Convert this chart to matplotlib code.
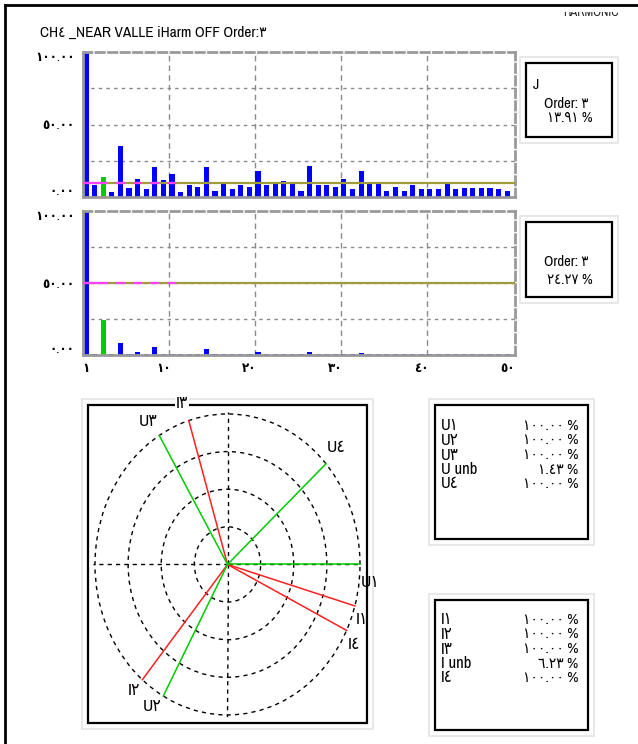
import numpy as np
import matplotlib
matplotlib.use("Agg")
import matplotlib.pyplot as plt
from matplotlib.patches import Rectangle

plt.rcParams['font.family'] = ['Archivo Narrow', 'DejaVu Sans', 'IBM Plex Sans Arabic']
plt.rcParams['font.stretch'] = 'condensed'

W, H = 638, 744
AR_DIGITS = str.maketrans('0123456789', '٠١٢٣٤٥٦٧٨٩')


def ar(s):
    """Arabic-Indic digits, as the instrument screen shows them."""
    return str(s).translate(AR_DIGITS)


# ---- data ----
title = 'CH4 _NEAR VALLE iHarm OFF Order:3'
header = 'HARMONIC'
orders = np.arange(1, 51)
sel_order = 3

# harmonic spectrum, channel voltage (% of fundamental)
spec_a = [100, 8.3, 13.91, 3.5, 35.4, 6.0, 12.3, 5.3, 20.6, 11.8,
          15.7, 3.5, 8.3, 7.2, 20.6, 4.2, 9.5, 5.3, 8.3, 7.2,
          17.6, 8.3, 9.5, 11.3, 9.5, 4.2, 21.7, 8.3, 8.3, 7.2,
          12.3, 5.3, 17.6, 9.5, 9.5, 4.2, 7.2, 4.2, 8.3, 5.3,
          5.3, 5.3, 9.5, 5.3, 6.0, 6.0, 6.0, 6.0, 5.3, 4.2]
# harmonic spectrum, channel current (% of fundamental)
spec_b = [100, 0.8, 24.27, 0.8, 8.1, 0.8, 2.0, 0.8, 5.8, 0.8,
          0.8, 0.8, 0.8, 0.8, 4.0, 0.8, 0.8, 0.8, 0.8, 0.8,
          2.3, 0.8, 0.8, 0.8, 0.8, 0.8, 2.3, 0.8, 0.8, 0.8,
          0.8, 0.8, 1.7, 0.8, 0.8, 0.8, 0.8, 0.8, 0.8, 0.8,
          0.8, 0.8, 0.8, 0.8, 0.8, 0.8, 0.8, 0.8, 0.8, 0.8]
limit_a = 10.0
limit_b = 50.0
limit_orders = [1, 2, 3, 5, 7, 9, 11]
x_ticks = [1, 10, 20, 30, 40, 50]

# phasors (deg, %)
u_names = ['U1', 'U2', 'U3', 'U4']
u_angles = [0, 241, 121, 42]
u_mags = [100.0, 100.0, 100.0, 100.0]
u_unb = 1.43
i_names = ['I1', 'I2', 'I3', 'I4']
i_angles = [344, 230, 107, 334]
i_mags = [100.0, 100.0, 100.0, 100.0]
i_unb = 6.23

BLUE = '#0000ff'
GREEN = '#00cc00'
RED = '#ff2020'
OLIVE = '#a09c3c'
MAGENTA = '#ff40ff'
GRID = '#8a8a8a'


def px_rect(left, top, width, height):
    return [left / W, 1 - (top + height) / H, width / W, height / H]


fig = plt.figure(figsize=(W / 100, H / 100), dpi=100)
fig.patch.set_facecolor('white')

# overlay in pixel units for frames and panel text
ov = fig.add_axes([0, 0, 1, 1])
ov.set_xlim(0, W)
ov.set_ylim(H, 0)
ov.axis('off')


def frame(x0, y0, x1, y1, pad=6):
    ov.add_patch(Rectangle((x0 - pad, y0 - pad), x1 - x0 + 2 * pad, y1 - y0 + 2 * pad,
                           fill=False, ec='#e4e4e4', lw=1.2))
    ov.add_patch(Rectangle((x0, y0), x1 - x0, y1 - y0, fill=False, ec='black', lw=1.6))


# outer window edge
ov.plot([5, W], [5, 5], color='black', lw=2)
ov.plot([5, 5], [5, H], color='black', lw=2)
ov.text(591, 12, header, ha='center', va='center', fontsize=9, color='#222222')
ov.add_patch(Rectangle((540, 6.5), 98, 5, fc='white', ec='none', zorder=5))

ov.text(40, 33, ar(title), ha='left', va='center', fontsize=11)


def spectrum(rect, values, limit, show_x):
    ax = fig.add_axes(px_rect(*rect))
    colors = [GREEN if o == sel_order else BLUE for o in orders]
    ax.bar(orders, values, width=0.6, color=colors, zorder=2)
    ax.set_xlim(0.65, 50.9)
    ax.set_ylim(0, 100)
    for yv in (25, 50, 75):
        ax.axhline(yv, color=GRID, lw=1, ls=(0, (2.5, 3)), zorder=1)
    for xv in (10.65, 20.65, 30.65, 40.65):
        ax.axvline(xv, color=GRID, lw=1, ls=(0, (4, 3)), zorder=1)
    ax.axhline(limit, color=OLIVE, lw=1.6, zorder=3)
    lo = np.array(limit_orders)
    ax.hlines([limit] * len(lo), lo - 0.5, lo + 0.5, color=MAGENTA, lw=1.6, zorder=4)
    for side in ('left', 'bottom'):
        ax.spines[side].set_color('#999999')
        ax.spines[side].set_linewidth(2)
    for side in ('top', 'right'):
        ax.spines[side].set_color('#999999')
        ax.spines[side].set_linewidth(2)
        ax.spines[side].set_linestyle((0, (3, 1.5)))
    ax.set_yticks([0, 50, 100])
    ax.set_yticklabels([ar('%.2f' % v) for v in (0, 50, 100)], fontsize=9.5, fontweight='bold')
    labels = ax.get_yticklabels()
    labels[0].set_verticalalignment('bottom')
    labels[2].set_verticalalignment('top')
    ax.tick_params(axis='y', length=0, pad=6)
    if show_x:
        ax.set_xticks(x_ticks)
        ax.set_xticklabels([ar(v) for v in x_ticks], fontsize=9.5, fontweight='bold')
        ax.tick_params(axis='x', length=0, pad=6)
    else:
        ax.set_xticks([])
    return ax


spectrum((83, 52, 432, 145), spec_a, limit_a, False)
spectrum((83, 211, 432, 144), spec_b, limit_b, True)

# selected-order readouts
frame(526, 63, 612, 137)
ov.text(533, 85, 'J', ha='left', va='center', fontsize=11)
ov.text(566, 104, ar('Order: %d' % sel_order), ha='center', va='center', fontsize=10.5)
ov.text(570, 118, ar('%.2f %%' % spec_a[sel_order - 1]), ha='center', va='center', fontsize=10.5)

frame(526, 222, 612, 297)
ov.text(566, 262, ar('Order: %d' % sel_order), ha='center', va='center', fontsize=10.5)
ov.text(570, 280, ar('%.2f %%' % spec_b[sel_order - 1]), ha='center', va='center', fontsize=10.5)

# phasor diagram (ellipse rings: the screen is not square-pixel)
frame(88, 405, 367, 723)
pax = fig.add_axes(px_rect(93, 411.7, 269, 305.5), projection='polar')
pax.set_aspect('auto')
pax.set_facecolor('none')
pax.set_ylim(0, 101.5)
pax.set_rgrids([25, 50, 75, 100])
pax.set_thetagrids([0, 90, 180, 270])
pax.set_xticklabels([])
pax.set_yticklabels([])
pax.grid(True, color='black', lw=1, ls=(0, (3, 3)))
pax.spines['polar'].set_visible(False)

u_offsets = [(10, -18), (-11, -10), (-11, 14), (10, 16)]
i_offsets = [(7, -14), (-8, -11), (-7, 17), (7, -14)]
for name, ang, mag, off in zip(i_names, i_angles, i_mags, i_offsets):
    th = np.deg2rad(ang)
    pax.plot([0, th], [0, mag], color=RED, lw=1.1, zorder=3)
    bbox = dict(fc='white', ec='none', pad=0.5) if name == 'I3' else None
    pax.annotate(ar(name), (th, mag), xytext=off, textcoords='offset pixels',
                 ha='center', va='center', fontsize=12.5, annotation_clip=False,
                 bbox=bbox, zorder=5)
for name, ang, mag, off in zip(u_names, u_angles, u_mags, u_offsets):
    th = np.deg2rad(ang)
    pax.plot([0, th], [0, mag], color=GREEN, lw=1.1, zorder=4)
    pax.annotate(ar(name), (th, mag), xytext=off, textcoords='offset pixels',
                 ha='center', va='center', fontsize=12.5, annotation_clip=False)

# magnitude tables
frame(435, 405, 588, 539)
u_rows = [(u_names[0], u_mags[0]), (u_names[1], u_mags[1]), (u_names[2], u_mags[2]),
          ('U unb', u_unb), (u_names[3], u_mags[3])]
for k, (name, val) in enumerate(u_rows):
    y = 426 + k * 14.5
    ov.text(441, y, ar(name), ha='left', va='center', fontsize=12)
    ov.text(578, y, ar('%.2f %%' % val), ha='right', va='center', fontsize=11)

frame(435, 600, 588, 730)
i_rows = [(i_names[0], i_mags[0]), (i_names[1], i_mags[1]), (i_names[2], i_mags[2]),
          ('I unb', i_unb), (i_names[3], i_mags[3])]
for k, (name, val) in enumerate(i_rows):
    y = 620 + k * 14.5
    ov.text(441, y, ar(name), ha='left', va='center', fontsize=12)
    ov.text(578, y, ar('%.2f %%' % val), ha='right', va='center', fontsize=11)

fig.savefig('out.png', dpi=100)
